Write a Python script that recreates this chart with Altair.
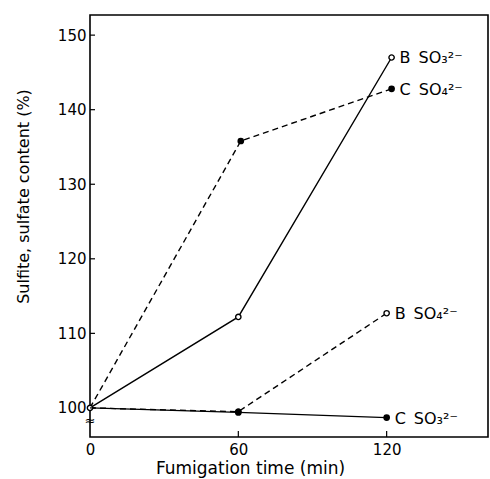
import altair as alt
import pandas as pd

# ---- data ----
series_names = ["B\u2002SO₃²⁻", "C\u2002SO₄²⁻", "B\u2002SO₄²⁻", "C\u2002SO₃²⁻"]
times_b_so3 = [0, 60, 122]
vals_b_so3 = [100.0, 112.2, 147.0]
times_c_so4 = [0, 61, 122]
vals_c_so4 = [100.0, 135.8, 142.8]
times_b_so4 = [0, 60, 120]
vals_b_so4 = [100.0, 99.5, 112.7]
times_c_so3 = [0, 60, 120]
vals_c_so3 = [100.0, 99.4, 98.7]

y_tick_values = [100, 110, 120, 130, 140, 150]
x_tick_values = [0, 60, 120]

# styles per series
dashed = [False, True, True, False]
filled = [False, True, False, True]

all_times = [times_b_so3, times_c_so4, times_b_so4, times_c_so3]
all_vals = [vals_b_so3, vals_c_so4, vals_b_so4, vals_c_so3]

FONT = "DejaVu Sans"
xscale = alt.Scale(domain=[0, 161], nice=False, zero=False)
yscale = alt.Scale(domain=[96.1, 152.7], nice=False, zero=False)

xaxis = alt.Axis(values=x_tick_values, title="Fumigation time (min)", ticks=False,
                 domain=False, grid=False, labelFont=FONT, labelFontSize=15,
                 labelColor="black", labelPadding=5, labelFlush=False,
                 titleFont=FONT, titleFontSize=17,
                 titleFontWeight="normal", titleColor="black", titlePadding=3,
                 titleX=160)
yaxis = alt.Axis(values=y_tick_values, title="Sulfite, sulfate content (%)", ticks=False,
                 domain=False, grid=False, labelFont=FONT, labelFontSize=15,
                 labelColor="black", labelPadding=4, labelFlush=False,
                 titleFont=FONT, titleFontSize=16,
                 titleFontWeight="normal", titleColor="black",
                 titleX=-67, titleY=181, titleBaseline="middle", titleAngle=270)

layers = []
for i, name in enumerate(series_names):
    df = pd.DataFrame({"t": all_times[i], "v": all_vals[i], "s": name})
    base = alt.Chart(df)
    line_kwargs = dict(color="black", strokeWidth=1.4)
    if dashed[i]:
        line_kwargs["strokeDash"] = [6, 4]
    layers.append(base.mark_line(**line_kwargs).encode(
        x=alt.X("t:Q", scale=xscale, axis=xaxis),
        y=alt.Y("v:Q", scale=yscale, axis=yaxis)))
    pts = alt.Chart(df[df["t"] > 0])
    if filled[i]:
        pt = pts.mark_circle(color="black", size=45, opacity=1)
    else:
        pt = pts.mark_point(shape="circle", filled=True, fill="white", stroke="black",
                            strokeWidth=1.4, size=28, opacity=1)
    layers.append(pt.encode(x=alt.X("t:Q", scale=xscale), y=alt.Y("v:Q", scale=yscale)))
    last = df.tail(1)
    layers.append(alt.Chart(last).mark_text(align="left", baseline="middle", dx=8, dy=1,
                                            font=FONT, fontSize=16, color="black").encode(
        x=alt.X("t:Q", scale=xscale), y=alt.Y("v:Q", scale=yscale), text="s:N"))

# common starting point (open circle at time 0)
start_df = pd.DataFrame({"t": [all_times[0][0]], "v": [all_vals[0][0]]})
layers.append(alt.Chart(start_df).mark_point(shape="circle", filled=True, fill="white",
                                             stroke="black", strokeWidth=1.4, size=28,
                                             opacity=1).encode(
    x=alt.X("t:Q", scale=xscale), y=alt.Y("v:Q", scale=yscale)))

# inward tick marks
ytick_df = pd.DataFrame({"v": y_tick_values})
layers.append(alt.Chart(ytick_df).mark_rule(color="black", strokeWidth=1.2).encode(
    y=alt.Y("v:Q", scale=yscale), x=alt.value(0), x2=alt.value(5)))
xtick_df = pd.DataFrame({"t": x_tick_values[1:]})
layers.append(alt.Chart(xtick_df).mark_rule(color="black", strokeWidth=1.2).encode(
    x=alt.X("t:Q", scale=xscale), y=alt.value(422), y2=alt.value(416)))

# axis break mark
brk = pd.DataFrame({"t": [0], "v": [98.3], "s": ["≈"]})
layers.append(alt.Chart(brk).mark_text(font=FONT, fontSize=13, color="black").encode(
    x=alt.X("t:Q", scale=xscale), y=alt.Y("v:Q", scale=yscale), text="s:N"))

chart = alt.layer(*layers).properties(
    width=398, height=422,
    autosize=alt.AutoSizeParams(type="none"),
    padding={"left": 90, "top": 15, "right": 2, "bottom": 42},
    background="white",
).configure_view(stroke="black", strokeWidth=1.6)

chart.save("out.html", embed_options={"renderer": "svg", "actions": False})
